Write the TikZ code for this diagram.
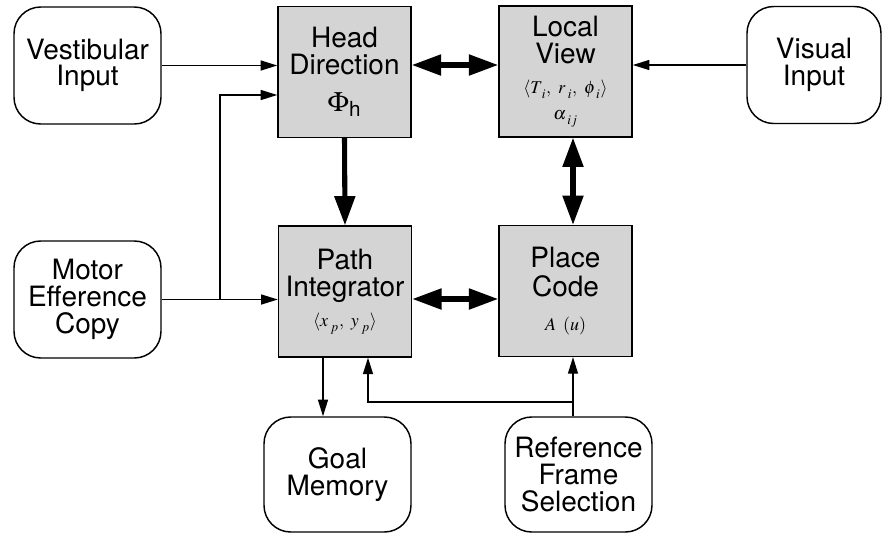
\documentclass[tikz,border=0pt]{standalone}
\usepackage{mathptmx}
\usepackage{fontspec}
\setsansfont{TeX Gyre Heros}
\usetikzlibrary{arrows.meta,positioning}

\tikzset{
  unit/.style={draw, line width=1.1pt, fill=black!17, minimum width=99.75pt, minimum height=98pt,
    inner sep=0pt, align=center, font=\sffamily\fontsize{21}{20}\selectfont},
  io/.style={draw, line width=1.1pt, rounded corners=20pt, minimum width=110.25pt, minimum height=87.75pt,
    inner sep=0pt, align=center, font=\sffamily\fontsize{21}{20}\selectfont},
  thinarr/.style={line width=1.1pt, -{Triangle[length=12.5pt,width=7.5pt]}},
  fatarr/.style={line width=3.8pt, -{Triangle[length=22pt,width=15pt]}},
  fatboth/.style={line width=3.8pt, {Triangle[length=22pt,width=15pt]}-{Triangle[length=22pt,width=15pt]}},
}
\newcommand{\mlab}[1]{{\fontsize{13.5}{15}\selectfont#1}}
\newcommand{\lsub}[1]{_{\hspace{2pt}\lower1.5pt\hbox{$\scriptstyle #1$}}}

\begin{document}
\begin{tikzpicture}[x=0.75pt,y=0.75pt,yscale=-1,xscale=1]
\useasboundingbox (0,0) rectangle (883,533);

% inputs
\node[io] (vest) at (87.5,65.5) {Vestibular\\Input};
\node[io] (motor) at (87.5,299.5) {Motor\\Efference\\Copy};
\node[io, minimum width=100.5pt] (visual) at (814,65) {Visual\\Input};

% shaded units
\node[unit] (head) at (344.5,72) {Head\\Direction\\[8pt]$\Phi$\textsubscript{h}};
\node[unit] (local) at (565.5,71.5) {Local\\View\\[3pt]\mlab{$\langle T\lsub{i},\ r\lsub{i},\ \phi\lsub{i}\rangle$}\\[-1pt]\mlab{$\alpha\lsub{ij}$}};
\node[unit] (path) at (345,291.5) {Path\\Integrator\\[3pt]\mlab{$\langle x\lsub{p},\ y\lsub{p}\rangle$}};
\node[unit] (place) at (565.5,291) {Place\\[2pt]Code\\[5pt]\mlab{$A\ \,(u)$}};

% outputs
\node[io, minimum height=86.25pt] (goal) at (337.5,474.5) {Goal\\Memory};
\node[io, minimum height=86.25pt] (ref) at (578.5,474.5) {Reference\\Frame\\Selection};

% helper points
\coordinate (split) at (220,299);
\coordinate (hdin) at (0,95);
\coordinate (pg) at (323,0);
\coordinate (rp) at (573,402);
\coordinate (ret) at (368,0);

% thin connectors
\draw[thinarr] (vest.east) -- (vest.east -| head.west);
\draw[thinarr] (visual.west) -- (visual.west -| local.east);
\draw[thinarr] (motor.east) -- (motor.east -| path.west);
\draw[thinarr] (motor.east -| split) -- (split |- hdin) -- (head.west |- hdin);
\draw[thinarr] (path.south -| pg) -- (goal.north -| pg);
\draw[thinarr] (ref.north -| rp) -- (place.south -| rp);
\draw[thinarr] (rp) -- (rp -| ret) -- (path.south -| ret);

% thick connectors
\draw[fatarr] (head.south) -- (path.north);
\draw[fatboth] (head.east |- 0,65) -- (local.west |- 0,65);
\draw[fatboth] (local.south -| rp) -- (place.north -| rp);
\draw[fatboth] (path.east |- split) -- (place.west |- split);

\end{tikzpicture}
\end{document}
